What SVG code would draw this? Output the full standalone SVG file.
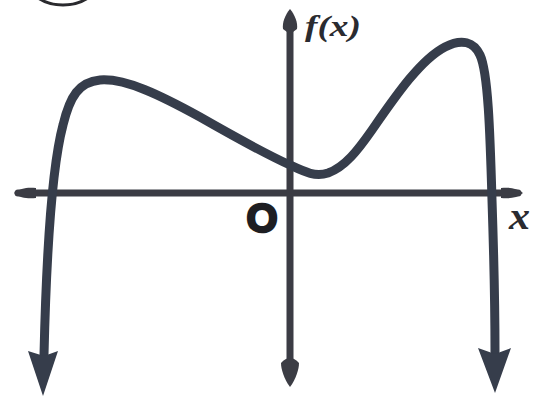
<svg xmlns="http://www.w3.org/2000/svg" width="534" height="409" viewBox="0 0 534 409">
  <style>
    .axis { stroke: #3b3c44; stroke-width: 7; fill: none; stroke-linecap: round; }
    .axhead { fill: #3b3c44; }
    .curve { stroke: #363d4b; stroke-width: 9; fill: none; stroke-linecap: round; stroke-linejoin: round; }
    .chead { fill: #363d4b; }
    .lbl { font-family: "Liberation Serif", "DejaVu Serif", serif; font-weight: bold; font-style: italic; fill: #2a2b30; }
  </style>
  <rect width="534" height="409" fill="#ffffff"/>
  <g id="label-circle">
    <ellipse cx="63" cy="-22" rx="37" ry="27" fill="none" stroke="#2a2a2e" stroke-width="3"/>
  </g>
  <g id="connectors">
    <g id="x-axis">
      <line class="axis" x1="18" y1="193" x2="518" y2="193"/>
      <path class="axhead" d="M14,193 C20,188 28,187 36,188 L36,198 C28,199 20,198 14,193 Z"/>
      <path class="axhead" d="M523,193 C517,188 509,187 501,188 L501,198 C509,199 517,198 523,193 Z"/>
    </g>
    <g id="y-axis">
      <line class="axis" x1="290" y1="22" x2="290" y2="372"/>
      <path class="axhead" d="M290,9 C295,15 298,23 297,29 Q290,36 283,29 C282,23 285,15 290,9 Z"/>
      <path class="axhead" d="M290,387 C284,379 281,369 281,363 Q290,353 299,363 C299,369 296,379 290,387 Z"/>
    </g>
  </g>
  <g id="curve">
    <path class="curve" d="M44,355 C46,270 51,170 63,125 C70,96 79,82 100,80 C125,78 160,95 200,117 C235,137 270,156 290,165 C305,172 315,177 328,173 C345,167 358,150 372,130 C395,97 420,60 445,47 C462,38 474,42 480,55 C488,72 490,130 492,200 C494,260 495,320 495,352"/>
    <polygon class="chead" points="28,351 44,356 58,351 43,396"/>
    <polygon class="chead" points="478,348 495,354 511,348 495,393"/>
  </g>
  <g id="labels">
    <text class="lbl" x="305" y="36" font-size="30" textLength="56" lengthAdjust="spacingAndGlyphs">f(x)</text>
    <text x="262" y="232" text-anchor="middle" font-family="Liberation Sans, Arial, sans-serif" font-weight="bold" font-size="40" fill="#1e1e22" stroke="#1e1e22" stroke-width="2.5">O</text>
    <text class="lbl" x="509" y="229" font-size="38" textLength="21" lengthAdjust="spacingAndGlyphs">x</text>
  </g>
</svg>
